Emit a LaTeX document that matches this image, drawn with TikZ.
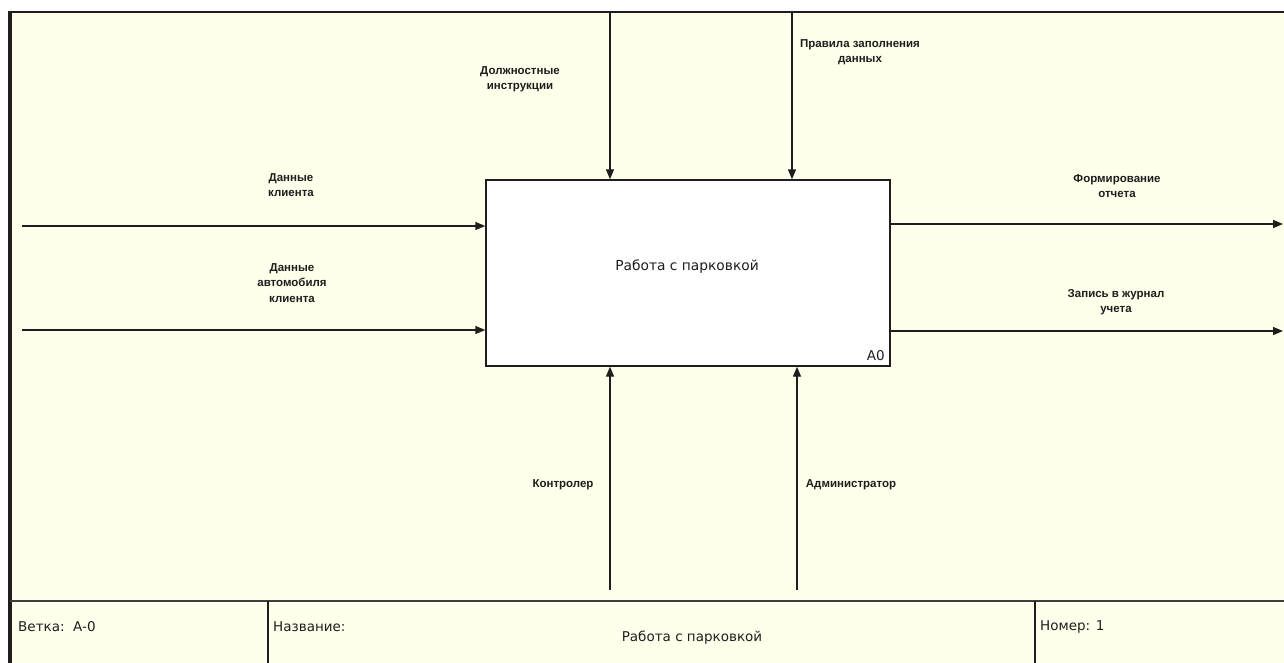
\documentclass[tikz,border=0pt]{standalone}
\usepackage{fontspec}
\setmainfont{DejaVu Sans}
\newfontfamily\arrowfont{Liberation Sans}
\usetikzlibrary{arrows.meta}
\definecolor{paper}{RGB}{255,255,236}
\definecolor{ink}{RGB}{30,30,30}
\begin{document}
\begin{tikzpicture}[x=1pt,y=-1pt,
  arr/.style={draw=ink, line width=1.4pt, -{Triangle[length=10pt,width=8pt]}},
  lbl/.style={font=\arrowfont\fontsize{11.5}{15.5}\selectfont\bfseries, align=center, inner sep=0pt, text=ink},
  cell/.style={font=\fontsize{13.5}{15}\selectfont, anchor=west, inner sep=0pt, text=ink},
  actbox/.style={draw=ink, line width=1.4pt, fill=white, minimum width=404pt, minimum height=186pt, inner sep=0pt}]
\useasboundingbox (0,0) rectangle (1284,663);
\fill[white] (0,0) rectangle (1284,663);
\fill[paper] (10,12) rectangle (1284,663);
% sheet frame
\draw[ink, line width=2.2pt] (9,12) -- (1284,12);
\draw[ink, line width=4pt] (10,11) -- (10,663);
% title block
\draw[ink!85, line width=1.6pt] (10,601) -- (1284,601);
\draw[ink, line width=1.3pt] (268,601) -- (268,663) (1035,601) -- (1035,663);
\node[cell] (branch) at (18,627) {Ветка:\ \ A-0};
\node[cell] (titlelbl) at (273,627) {Название:};
\node[cell, anchor=center] (title) at (692,638) {Работа с парковкой};
\node[cell] (number) at (1040,627) {Номер: 1};

% activity box
\node[actbox] (act) at (688,273) {};
\node[font=\fontsize{13.8}{15}\selectfont, text=ink] (actname) at (687,267) {Работа с парковкой};
\node[font=\fontsize{13.5}{15}\selectfont, text=ink, anchor=south east, inner sep=0pt] (actid) at (885,361) {A0};

% arrow end points
\coordinate (c1) at (610,12);
\coordinate (c2) at (792,12);
\coordinate (m1) at (610,590);
\coordinate (m2) at (797,590);
\coordinate (i1) at (22,226);
\coordinate (i2) at (22,330);
\coordinate (o1) at (1283,224);
\coordinate (o2) at (1283,331);

% controls
\draw[arr] (c1) -- (c1 |- act.north);
\draw[arr] (c2) -- (c2 |- act.north);
% mechanisms
\draw[arr] (m1) -- (m1 |- act.south);
\draw[arr] (m2) -- (m2 |- act.south);
% inputs
\draw[arr] (i1) -- (i1 -| act.west);
\draw[arr] (i2) -- (i2 -| act.west);
% outputs
\draw[arr] (o1 -| act.east) -- (o1);
\draw[arr] (o2 -| act.east) -- (o2);

% arrow labels
\node[lbl] (l1) at (291,185) {Данные\\клиента};
\node[lbl] (l2) at (292,283) {Данные\\автомобиля\\клиента};
\node[lbl] (l3) at (520,79) {Должностные\\инструкции};
\node[lbl] (l4) at (860,52) {Правила заполнения\\данных};
\node[lbl] (l5) at (1117,186) {Формирование\\отчета};
\node[lbl] (l6) at (1116,302) {Запись в журнал\\учета};
\node[lbl] (l7) at (563,485) {Контролер};
\node[lbl] (l8) at (851,485) {Администратор};
\end{tikzpicture}
\end{document}
